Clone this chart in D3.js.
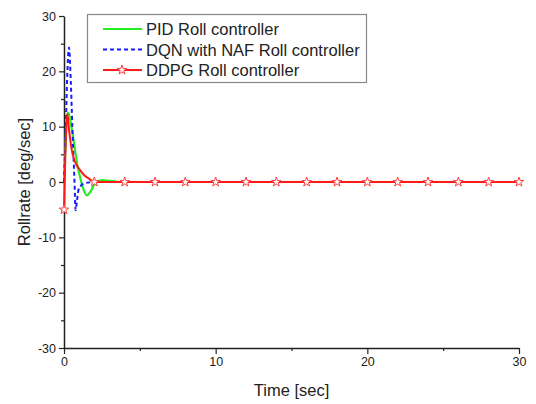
<!DOCTYPE html>
<html>
<head>
<meta charset="utf-8">
<script src="https://cdn.jsdelivr.net/npm/d3@7"></script>
<style>
body { margin: 0; background: #fff; }
text { font-family: "Liberation Sans", Arial, sans-serif; fill: #222; }
</style>
</head>
<body>
<div id="chart"></div>
<script>
// Width and height
var chart_width  = 536;
var chart_height = 404;
var margin = { left: 64, top: 16, right: 17, bottom: 56 };

// Data
var pid_time  = [0, 0.1, 0.2, 0.28, 0.4, 0.5, 0.73, 0.9, 1.05, 1.2, 1.5, 1.8, 2.05, 2.5, 3, 3.5, 4, 30];
var pid_rate  = [0, 7, 11.8, 12.5, 11.5, 9.8, 5.8, 2.8, 1, -0.6, -2.4, -1.5, -0.2, 0.35, 0.2, 0.05, 0, 0];

var dqn_time  = [0, 0.1, 0.2, 0.33, 0.45, 0.55, 0.68, 0.77, 0.85, 0.95, 1.1, 1.4, 1.8, 2.2, 30];
var dqn_rate  = [0, 8, 18, 24.3, 18, 10, 1, -5.1, -3.5, -1.5, -0.7, -0.2, -0.05, 0, 0];

var ddpg_time = [0, 0.08, 0.15, 0.22, 0.35, 0.5, 0.61, 0.8, 1.05, 1.3, 1.6, 2, 30];
var ddpg_rate = [-5, 4, 10, 12.4, 9, 6, 4.6, 3.2, 2.2, 1.3, 0.7, 0, 0];

var marker_time = [0, 2, 4, 6, 8, 10, 12, 14, 16, 18, 20, 22, 24, 26, 28, 30];
var marker_rate = [-5, 0, 0, 0, 0, 0, 0, 0, 0, 0, 0, 0, 0, 0, 0, 0];

var x_ticks = [0, 10, 20, 30];
var x_minor = [5, 15, 25];
var y_ticks = [-30, -20, -10, 0, 10, 20, 30];
var y_minor = [-25, -15, -5, 5, 15, 25];

var legend_labels = ['PID Roll controller', 'DQN with NAF Roll controller', 'DDPG Roll controller'];

var svg = d3.select('#chart')
    .append('svg')
    .attr('width', chart_width)
    .attr('height', chart_height);

var x = d3.scaleLinear().domain([0, 30]).range([margin.left, chart_width - margin.right]);
var y = d3.scaleLinear().domain([-30, 30]).range([chart_height - margin.bottom, margin.top]);

function zip(ts, vs) {
    return ts.map(function(t, i) { return [t, vs[i]]; });
}

var line = d3.line()
    .x(function(d) { return x(d[0]); })
    .y(function(d) { return y(d[1]); })
    .curve(d3.curveMonotoneX);

var plain = function(d) { return String(d); };

// Axes
svg.append('g')
    .attr('transform', 'translate(0,' + y(-30) + ')')
    .call(d3.axisBottom(x).tickValues(x_ticks).tickSize(6).tickSizeOuter(0).tickFormat(plain));
svg.append('g')
    .attr('transform', 'translate(0,' + y(-30) + ')')
    .call(d3.axisBottom(x).tickValues(x_minor).tickSize(3).tickFormat(''))
    .select('.domain').remove();

svg.append('g')
    .attr('transform', 'translate(' + x(0) + ',0)')
    .call(d3.axisLeft(y).tickValues(y_ticks).tickSize(5).tickSizeOuter(0).tickFormat(plain));
svg.append('g')
    .attr('transform', 'translate(' + x(0) + ',0)')
    .call(d3.axisLeft(y).tickValues(y_minor).tickSize(3).tickFormat(''))
    .select('.domain').remove();

svg.selectAll('.domain').attr('stroke', '#222').attr('stroke-width', 1.5);
svg.selectAll('.tick line').attr('stroke', '#222').attr('stroke-width', 1.2);
svg.selectAll('.tick text')
    .style('font-family', '"Liberation Sans", Arial, sans-serif')
    .style('font-size', '12.5px')
    .attr('fill', '#222');

// Axis labels
svg.append('text')
    .attr('x', (x(0) + x(30)) / 2)
    .attr('y', 396)
    .attr('text-anchor', 'middle')
    .style('font-size', '16.5px')
    .text('Time [sec]');

svg.append('text')
    .attr('transform', 'translate(30,' + y(0) + ') rotate(-90)')
    .attr('text-anchor', 'middle')
    .style('font-size', '16.5px')
    .text('Rollrate [deg/sec]');

// Lines
svg.append('path')
    .datum(zip(pid_time, pid_rate))
    .attr('d', line)
    .attr('fill', 'none')
    .attr('stroke', '#22ee22')
    .attr('stroke-width', 2.2);

svg.append('path')
    .datum(zip(dqn_time, dqn_rate))
    .attr('d', line)
    .attr('fill', 'none')
    .attr('stroke', '#1a1aff')
    .attr('stroke-width', 2)
    .attr('stroke-dasharray', '4,3');

svg.append('path')
    .datum(zip(ddpg_time, ddpg_rate))
    .attr('d', line)
    .attr('fill', 'none')
    .attr('stroke', '#ff1a1a')
    .attr('stroke-width', 2);

var star = d3.symbol().type(d3.symbolStar).size(28);

svg.selectAll('.marker')
    .data(zip(marker_time, marker_rate))
    .enter()
    .append('path')
    .attr('class', 'marker')
    .attr('d', star)
    .attr('transform', function(d) { return 'translate(' + x(d[0]) + ',' + y(d[1]) + ')'; })
    .attr('fill', '#fff')
    .attr('stroke', '#ff4040')
    .attr('stroke-width', 1);

// Legend
var legend = svg.append('g');
legend.append('rect')
    .attr('x', 87.5)
    .attr('y', 14.5)
    .attr('width', 279)
    .attr('height', 68)
    .attr('fill', '#fff')
    .attr('stroke', '#888')
    .attr('stroke-width', 1.2);

var legend_styles = [
    { color: '#22ee22', dash: null, width: 2.2 },
    { color: '#1a1aff', dash: '4,3', width: 2 },
    { color: '#ff1a1a', dash: null, width: 2 }
];

legend_labels.forEach(function(label, i) {
    var ly = 29 + i * 20.5;
    legend.append('line')
        .attr('x1', 103).attr('x2', 142)
        .attr('y1', ly).attr('y2', ly)
        .attr('stroke', legend_styles[i].color)
        .attr('stroke-width', legend_styles[i].width)
        .attr('stroke-dasharray', legend_styles[i].dash);
    if (i === 2) {
        legend.append('path')
            .attr('d', star)
            .attr('transform', 'translate(122,' + ly + ')')
            .attr('fill', '#fff')
            .attr('stroke', '#ff4040');
    }
    legend.append('text')
        .attr('x', 146)
        .attr('y', ly + 6)
        .style('font-size', '16.5px')
        .text(label);
});
</script>
</body>
</html>
